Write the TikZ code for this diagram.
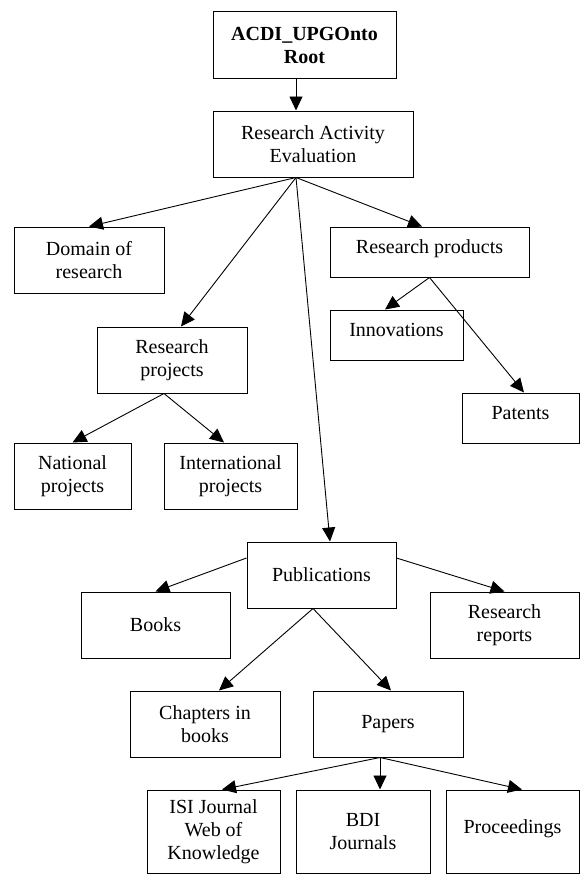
\documentclass[tikz,border=0pt]{standalone}
\usepackage{fontspec}
\setmainfont{Liberation Serif}
\usetikzlibrary{arrows.meta}
\begin{document}
\begin{tikzpicture}[x=1pt,y=-1pt,
  box/.style={draw, line width=1pt, align=center, inner sep=0pt,
    font=\fontsize{20}{23}\selectfont},
  wide/.style={minimum width=#1pt},
  tall/.style={minimum height=#1pt},
  oneline/.style={text height=14pt, text depth=11pt},
  link/.style={line width=0.9pt, -{Triangle[length=14pt,width=13pt]}}]
\useasboundingbox (0,0) rectangle (581,875);

% ontology classes
\node[box, wide=183, tall=66, font=\fontsize{20}{23}\selectfont\bfseries] (root) at (304.5,45) {ACDI\_UPGOnto\\Root};
\node[box, wide=200, tall=66] (rae) at (313,144) {Research Activity\\Evaluation};
\node[box, wide=150, tall=66] (dom) at (89,260) {Domain of\\research};
\node[box, oneline, wide=199, tall=50] (rprod) at (429.5,252) {Research products};
\node[box, oneline, wide=133, tall=50] (innov) at (396.5,335) {Innovations};
\node[box, oneline, wide=117, tall=50] (pat) at (520.5,418) {Patents};
\node[box, wide=150, tall=66] (rproj) at (172,360) {Research\\projects};
\node[box, wide=117, tall=66] (nat) at (72.5,476) {National\\projects};
\node[box, wide=133, tall=66] (intl) at (230.5,476) {International\\projects};
\node[box, wide=149, tall=66] (pub) at (321.5,575) {Publications};
\node[box, wide=149, tall=66] (books) at (155.5,625) {Books};
\node[box, wide=149, tall=66] (rrep) at (504.5,625) {Research\\reports};
\node[box, wide=150, tall=66] (chap) at (205,724) {Chapters in\\books};
\node[box, wide=150, tall=66] (papers) at (388,724) {Papers};
\node[box, wide=133, tall=83] (isi) at (213.5,831.5) {ISI Journal\\Web of\\Knowledge};
\node[box, wide=134, tall=83] (bdi) at (363,831.5) {BDI\\Journals};
\node[box, oneline, wide=133, tall=83] (proc) at (512.5,831.5) {Proceedings};

% subclass links
\draw[link] ([xshift=-8.5pt]root.south) -- ([xshift=-17pt]rae.north);
\draw[link] ([xshift=-17pt]rae.south) -- (dom.north);
\draw[link] ([xshift=-17pt]rae.south) -- ([xshift=9pt]rproj.north);
\draw[link] ([xshift=-17pt]rae.south) -- ([xshift=8.5pt]pub.north);
\draw[link] ([xshift=-17pt]rae.south) -- ([xshift=-7.5pt]rprod.north);
\draw[link] (rprod.south) -- ([xshift=-11.5pt]innov.north);
\draw[link] (rprod.south) -- ([xshift=3.5pt]pat.north);
\draw[link] ([xshift=-8pt]rproj.south) -- (nat.north);
\draw[link] ([xshift=-8pt]rproj.south) -- ([xshift=-6.5pt]intl.north);
\draw[link] ([yshift=17pt]pub.west) -- (books.north);
\draw[link] ([yshift=17pt]pub.east) -- (rrep.north);
\draw[link] ([xshift=-8.5pt]pub.south) -- ([xshift=14pt]chap.north);
\draw[link] ([xshift=-8.5pt]pub.south) -- ([xshift=3pt]papers.north);
\draw[link] ([xshift=-8pt]papers.south) -- ([xshift=8.5pt]isi.north);
\draw[link] ([xshift=-8pt]papers.south) -- ([xshift=17pt]bdi.north);
\draw[link] ([xshift=-8pt]papers.south) -- ([xshift=9.5pt]proc.north);
\end{tikzpicture}
\end{document}
